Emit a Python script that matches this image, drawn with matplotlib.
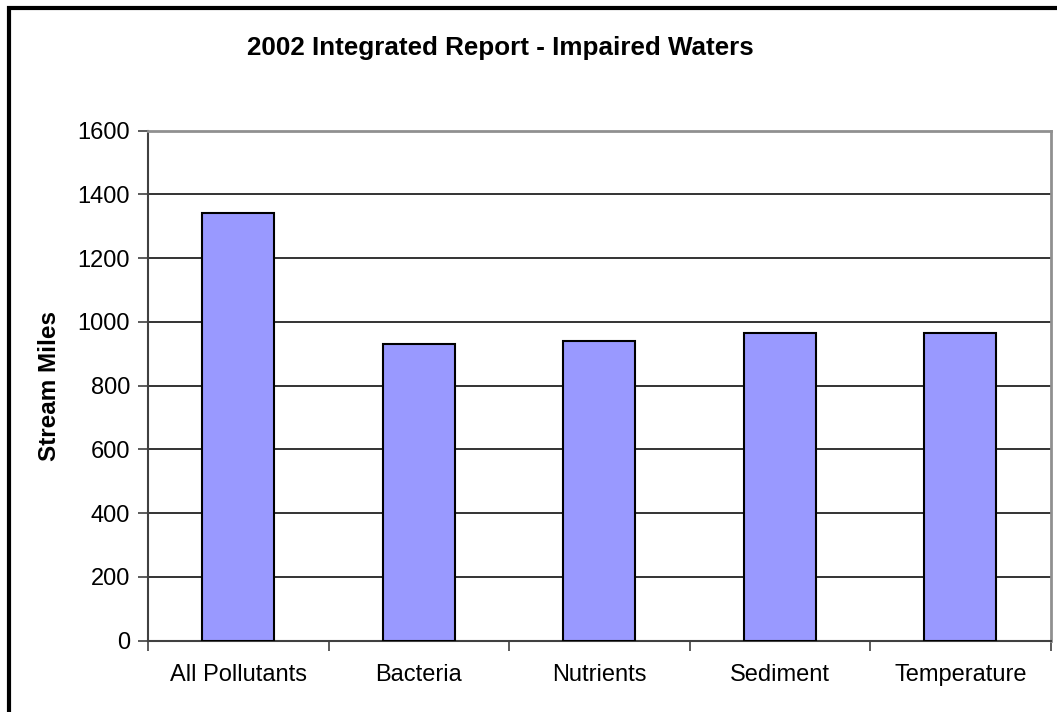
import matplotlib
matplotlib.use("Agg")
import matplotlib.pyplot as plt
from matplotlib.patches import Rectangle
import numpy as np

# Impaired stream miles by pollutant category
categories = ["All Pollutants", "Bacteria", "Nutrients", "Sediment", "Temperature"]
stream_miles = [1342, 929, 941, 964, 964]
y_ticks = [0, 200, 400, 600, 800, 1000, 1200, 1400, 1600]

plt.rcParams["font.family"] = ["Liberation Sans", "DejaVu Sans"]

fig = plt.figure(figsize=(10.57, 7.12), dpi=100)
ax = fig.add_axes([0.1400, 0.1001, 0.994 - 0.1400, 0.8167 - 0.1001])

x = np.arange(len(categories))
ax.bar(x, stream_miles, width=0.40, color="#9999FF", edgecolor="black",
       linewidth=1.5, zorder=3)

ax.set_xlim(-0.5, len(categories) - 0.5)
ax.set_ylim(0, 1600)
ax.set_yticks(y_ticks)
ax.set_yticklabels([str(v) for v in y_ticks], fontsize=17)
ax.set_xticks(x)
ax.set_xticklabels(categories, fontsize=17)
ax.tick_params(axis="x", which="major", length=0, pad=17)
ax.set_xticks(np.arange(-0.5, len(categories)), minor=True)
ax.tick_params(axis="x", which="minor", length=7, width=1.2, color="#404040")
ax.tick_params(axis="y", length=7, width=1.2, color="#404040", pad=6)

ax.grid(axis="y", color="#111111", linewidth=1.2, zorder=0)
ax.set_axisbelow(True)

for side in ("top", "right"):
    ax.spines[side].set_color("#909090")
    ax.spines[side].set_linewidth(2)
ax.spines["left"].set_color("#404040")
ax.spines["left"].set_linewidth(1.5)
ax.spines["bottom"].set_color("#404040")
ax.spines["bottom"].set_linewidth(1.5)

ax.set_ylabel("Stream Miles", fontsize=17.5, fontweight="bold", labelpad=12)

fig.text(0.473, 0.933, "2002 Integrated Report - Impaired Waters",
         ha="center", va="center", fontsize=18.7, fontweight="bold")

# Chart frame
fig.patches.append(Rectangle((9 / 1057, -0.05), 1.2, 1 - 8 / 712 + 0.05,
                             transform=fig.transFigure, fill=False,
                             edgecolor="black", linewidth=3))

fig.savefig("out.png", dpi=100)
